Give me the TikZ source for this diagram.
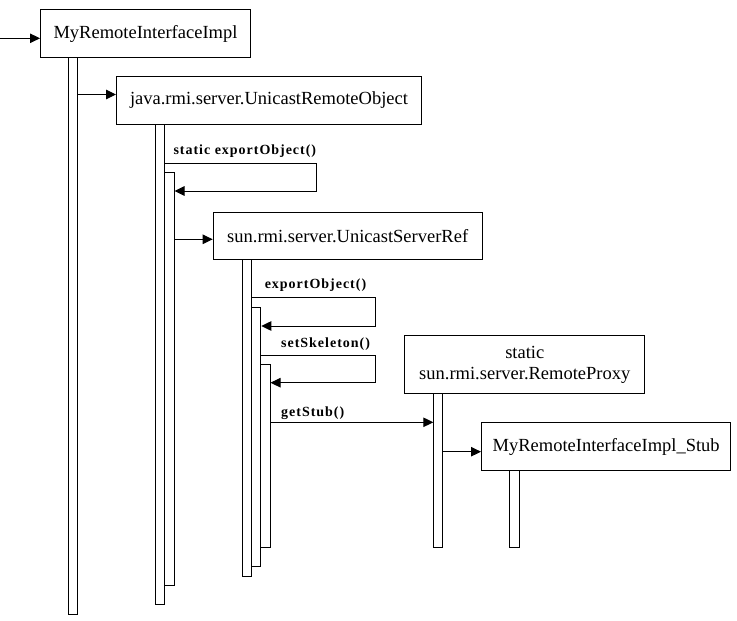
\documentclass[tikz,border=0pt]{standalone}
\usepackage{fontspec}
\setmainfont{Liberation Serif}
\newfontfamily\lblfont[LetterSpace=7]{Liberation Serif}
\usetikzlibrary{arrows.meta,calc}
\begin{document}
\begin{tikzpicture}[x=1pt,y=-1pt,line width=1pt,
  box/.style={draw,inner sep=0pt,anchor=north west,align=center,
    font=\fontsize{18.5}{21}\selectfont},
  bar/.style={draw,fill=white,inner sep=0pt,anchor=north west},
  lbl/.style={anchor=base west,inner sep=0pt,
    font=\lblfont\bfseries\fontsize{14}{16}\selectfont},
  msg/.style={-{Triangle[length=10pt,width=9.5pt]}}]
\useasboundingbox (0,0) rectangle (737,621);
% boxes
\node[box,minimum width=210pt,minimum height=48pt] (b1) at (40,9) {MyRemoteInterfaceImpl};
\node[box,minimum width=305pt,minimum height=48pt] (b2) at (116,76) {java.rmi.server.UnicastRemoteObject};
\node[box,minimum width=269pt,minimum height=47.6pt] (b3) at (212.7,211.7) {sun.rmi.server.UnicastServerRef};
\node[box,minimum width=240pt,minimum height=58pt] (b4) at (404.3,335.3) {static\\sun.rmi.server.RemoteProxy};
\node[box,minimum width=249.3pt,minimum height=48pt] (b5) at (481,422.3) {MyRemoteInterfaceImpl\_Stub};
% lifelines and activations
\node[bar,minimum width=9pt,minimum height=557.3pt] (l1) at (68.3,57) {};
\node[bar,minimum width=9.6pt,minimum height=480.3pt] (l2) at (154.7,124) {};
\node[bar,minimum width=9.2pt,minimum height=413pt] (a2b) at (164.3,172.3) {};
\node[bar,minimum width=9pt,minimum height=316.2pt] (l3) at (241.5,259.3) {};
\node[bar,minimum width=9.8pt,minimum height=259pt] (a3b) at (250.5,307.3) {};
\node[bar,minimum width=9.2pt,minimum height=183.3pt] (a3c) at (260.3,364) {};
\node[bar,minimum width=9pt,minimum height=154pt] (l4) at (433.3,393.3) {};
\node[bar,minimum width=10pt,minimum height=77pt] (l5) at (509.3,470.3) {};
% message levels
\coordinate (start) at (0,38.3);
\coordinate (m1) at (0,94.5);
\coordinate (s1t) at (316.7,163.3);
\coordinate (s1b) at (316.7,191);
\coordinate (m2) at (0,239.3);
\coordinate (s2t) at (375.3,297.7);
\coordinate (s2b) at (375.3,326);
\coordinate (s3t) at (375.3,355.3);
\coordinate (s3b) at (375.3,382.7);
\coordinate (m3) at (0,422.3);
\coordinate (m4) at (0,451.7);
% connectors
\draw[msg] (start) -- (b1.west |- start);
\draw[msg] (l1.east |- m1) -- (b2.west |- m1);
\draw[msg] (l2.east |- s1t) -- (s1t) -- (s1b) -- (a2b.east |- s1b);
\draw[msg] (a2b.east |- m2) -- (b3.west |- m2);
\draw[msg] (l3.east |- s2t) -- (s2t) -- (s2b) -- (a3b.east |- s2b);
\draw[msg] (a3b.east |- s3t) -- (s3t) -- (s3b) -- (a3c.east |- s3b);
\draw[msg] (a3c.east |- m3) -- (l4.west |- m3);
\draw[msg] (l4.east |- m4) -- (b5.west |- m4);
% labels
\node[lbl] (t1) at (173,154) {static exportObject()};
\node[lbl] (t2) at (264.3,288.5) {exportObject()};
\node[lbl] (t3) at (280.7,347) {setSkeleton()};
\node[lbl] (t4) at (280.7,416.5) {getStub()};
\end{tikzpicture}
\end{document}
